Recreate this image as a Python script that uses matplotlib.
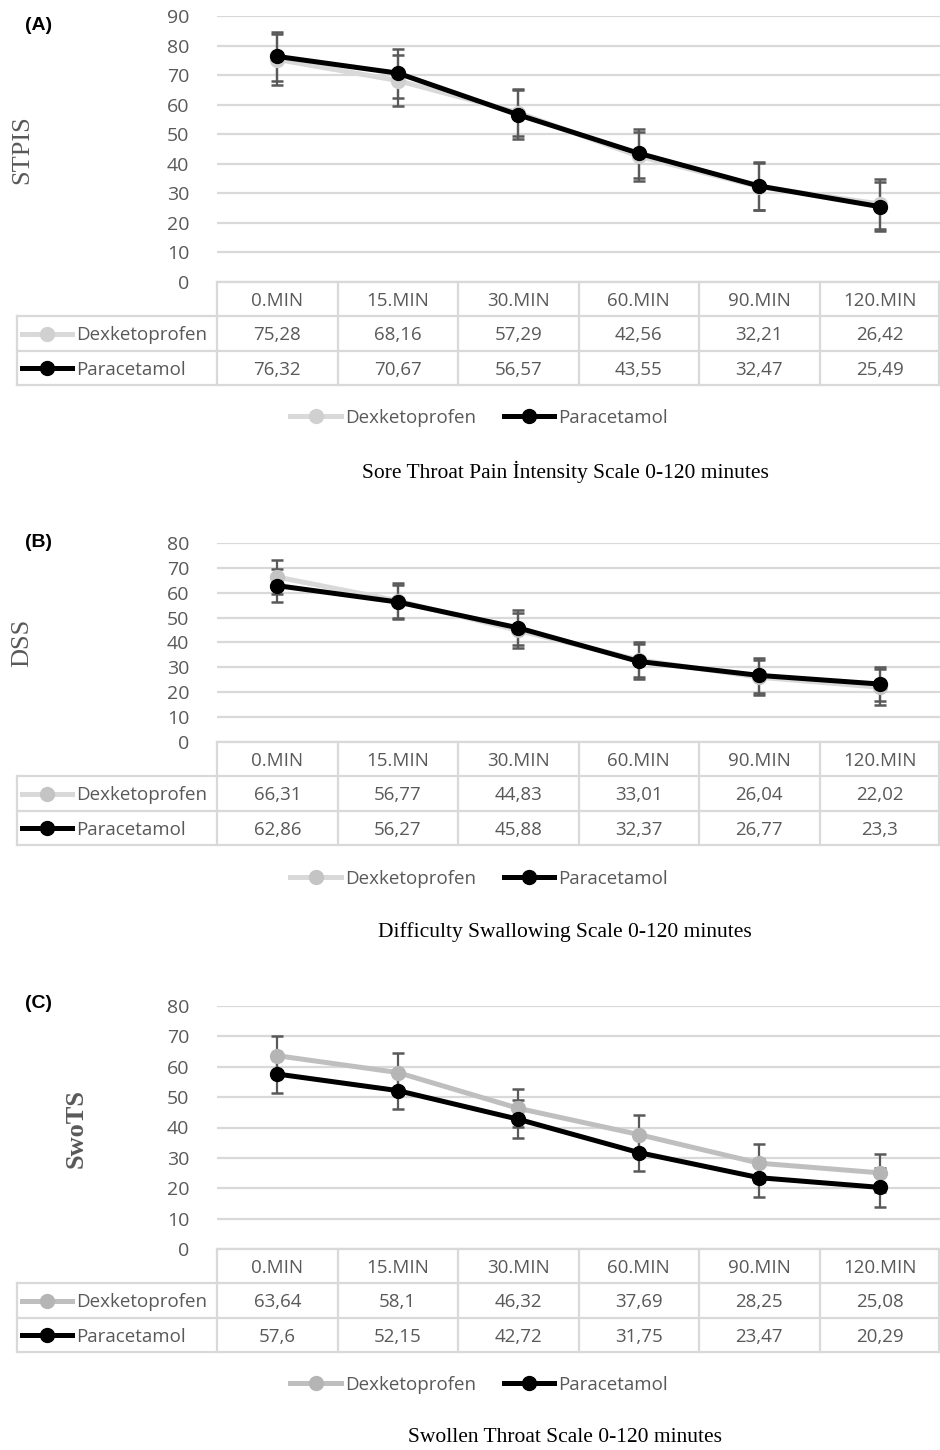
import matplotlib.pyplot as plt
from matplotlib.lines import Line2D

# Data
times = ["0.MIN", "15.MIN", "30.MIN", "60.MIN", "90.MIN", "120.MIN"]

stpis_dex = [75.28, 68.16, 57.29, 42.56, 32.21, 26.42]
stpis_para = [76.32, 70.67, 56.57, 43.55, 32.47, 25.49]
stpis_dex_sd = [8.5, 8.5, 8.0, 8.3, 8.0, 8.5]
stpis_para_sd = [8.2, 8.3, 8.3, 8.2, 8.2, 8.3]

dss_dex = [66.31, 56.77, 44.83, 33.01, 26.04, 22.02]
dss_para = [62.86, 56.27, 45.88, 32.37, 26.77, 23.3]
dss_dex_sd = [6.9, 7.0, 7.0, 7.0, 7.0, 7.3]
dss_para_sd = [6.5, 7.0, 7.0, 7.0, 7.0, 7.0]

swots_dex = [63.64, 58.1, 46.32, 37.69, 28.25, 25.08]
swots_para = [57.6, 52.15, 42.72, 31.75, 23.47, 20.29]
swots_dex_sd = [6.4, 6.4, 6.2, 6.3, 6.3, 6.2]
swots_para_sd = [6.1, 6.1, 6.2, 6.2, 6.2, 6.3]

W, H = 940, 1450
SANS = ["Open Sans", "DejaVu Sans"]
SERIF = "Liberation Serif"
TXT = "#595959"
GRID = "#d9d9d9"
ERR = "#595959"
COL_W = 120.5  # px per category column
FS = 13.5

fig = plt.figure(figsize=(W / 100, H / 100), dpi=100)


def box(x0, y0, x1, y1):
    return [x0 / W, 1 - y1 / H, (x1 - x0) / W, (y1 - y0) / H]


def fmt(v):
    return str(v).replace(".", ",")


def draw_panel(letter, ylabel, caption, dex, para, dex_sd, para_sd, ymax,
               top, bottom, dex_col, dex_mcol, label_x, label_y, bold,
               letter_y, legend_y, caption_y):
    x = list(range(len(times)))

    # chart area
    ax = fig.add_axes(box(217, top, 940, bottom))
    ax.errorbar(x, dex, yerr=dex_sd, fmt="none", ecolor=ERR, elinewidth=1.6,
                capsize=4.5, capthick=1.8, zorder=3)
    ax.errorbar(x, para, yerr=para_sd, fmt="none", ecolor=ERR, elinewidth=1.6,
                capsize=4.5, capthick=1.8, zorder=3)
    ax.plot(x, dex, color=dex_col, lw=3.6, marker="o", ms=10,
            mfc=dex_mcol, mec=dex_mcol, zorder=4, clip_on=False)
    ax.plot(x, para, color="black", lw=3.6, marker="o", ms=10,
            zorder=5, clip_on=False)
    ax.set_xlim(-0.5, 5.5)
    ax.set_ylim(0, ymax)
    ax.set_yticks(range(0, ymax + 1, 10))
    ax.set_xticks([])
    ax.yaxis.grid(True, color=GRID, lw=1.6)
    ax.set_axisbelow(True)
    for s in ax.spines.values():
        s.set_visible(False)
    ax.tick_params(axis="y", length=0, pad=20, labelsize=14, labelcolor=TXT)
    for lab in ax.get_yticklabels():
        lab.set_family(SANS)

    # data table under the chart
    tb = fig.add_axes(box(17, bottom, 940, bottom + 103))
    xl = -0.5 - 200 / COL_W
    tb.set_xlim(xl, 5.5)
    tb.set_ylim(3, 0)
    tb.axis("off")
    lk = dict(color=GRID, lw=1.6, clip_on=False)
    tb.plot([-0.5, 5.5], [0, 0], **lk)
    for r in (1, 2, 3):
        tb.plot([xl, 5.5], [r, r], **lk)
    tb.plot([xl, xl], [1, 3], **lk)
    for i in range(7):
        xi = -0.5 + i if i < 6 else 5.49
        tb.plot([xi, xi], [0, 3], **lk)
    for i, t in enumerate(times):
        tb.text(i, 0.55, t, ha="center", va="center", color=TXT,
                fontsize=FS, family=SANS)
        tb.text(i, 1.55, fmt(dex[i]), ha="center", va="center", color=TXT,
                fontsize=FS, family=SANS)
        tb.text(i, 2.55, fmt(para[i]), ha="center", va="center", color=TXT,
                fontsize=FS, family=SANS)
    k0 = xl + 5 / COL_W
    k1 = xl + 55 / COL_W
    tb.plot([k0, k1], [1.5, 1.5], color=dex_col, lw=3.6)
    tb.plot([(k0 + k1) / 2], [1.5], "o", ms=10, color=dex_mcol)
    tb.plot([k0, k1], [2.5, 2.5], color="black", lw=3.6)
    tb.plot([(k0 + k1) / 2], [2.5], "o", ms=10, color="black")
    tb.text(xl + 59 / COL_W, 1.55, "Dexketoprofen", ha="left", va="center",
            color=TXT, fontsize=FS, family=SANS)
    tb.text(xl + 59 / COL_W, 2.55, "Paracetamol", ha="left", va="center",
            color=TXT, fontsize=FS, family=SANS)

    # legend
    handles = [
        Line2D([], [], color=dex_col, lw=3.6, marker="o", ms=10,
               mfc=dex_mcol, mec=dex_mcol),
        Line2D([], [], color="black", lw=3.6, marker="o", ms=10),
    ]
    leg = fig.legend(handles, ["Dexketoprofen", "Paracetamol"], loc="center",
                     bbox_to_anchor=(479 / W, 1 - legend_y / H), ncol=2,
                     frameon=False, handlelength=2.7, handletextpad=0.2,
                     columnspacing=1.5, prop={"family": SANS, "size": FS})
    for t in leg.get_texts():
        t.set_color(TXT)

    # labels
    fig.text(25 / W, 1 - letter_y / H, letter, ha="left", va="center",
             fontsize=14, fontweight="bold", family="Liberation Sans")
    fig.text(label_x / W, 1 - label_y / H, ylabel, rotation=90, ha="center",
             va="center", fontsize=19, color=TXT, family=SERIF,
             fontweight="bold" if bold else "normal")
    fig.text(565 / W, 1 - caption_y / H, caption, ha="center", va="center",
             fontsize=15.5, family=SERIF)


draw_panel("(A)", "STPIS", "Sore Throat Pain \u0130ntensity Scale 0-120 minutes",
           stpis_dex, stpis_para, stpis_dex_sd, stpis_para_sd, 90,
           16, 282, "#d9d9d9", "#d0d0d0", 22, 150, False, 25, 418, 472)

draw_panel("(B)", "DSS", "Difficulty Swallowing Scale 0-120 minutes",
           dss_dex, dss_para, dss_dex_sd, dss_para_sd, 80,
           543, 742, "#d9d9d9", "#c4c4c4", 22, 643, False, 543, 879, 932)

draw_panel("(C)", "SwoTS", "Swollen Throat Scale 0-120 minutes",
           swots_dex, swots_para, swots_dex_sd, swots_para_sd, 80,
           1006, 1249, "#bfbfbf", "#b5b5b5", 76, 1128, True, 1003, 1385, 1438)

fig.savefig("out.png", dpi=100)
